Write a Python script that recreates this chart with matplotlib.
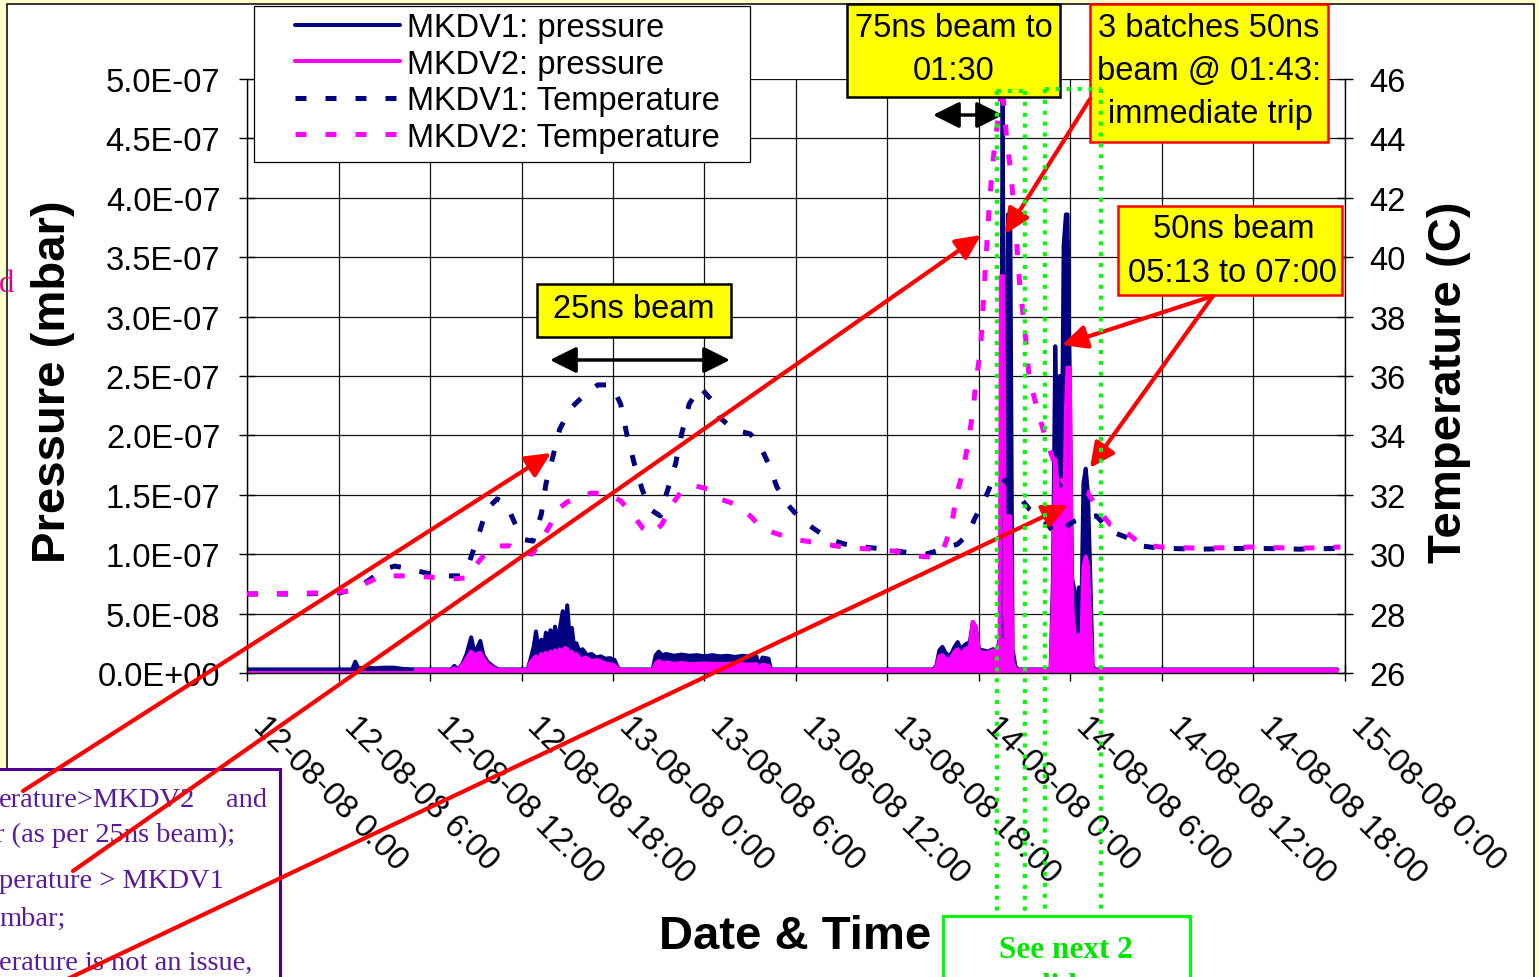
import matplotlib
matplotlib.use('Agg')
import matplotlib.pyplot as plt
from matplotlib.patches import Rectangle, FancyArrowPatch
from matplotlib.lines import Line2D

plt.rcParams['font.family'] = ['Liberation Sans', 'DejaVu Sans']

# ---------------- data ----------------
# time axis: hours after 12-08-08 00:00
x_tick_hours = [0, 6, 12, 18, 24, 30, 36, 42, 48, 54, 60, 66, 72]
x_tick_labels = ['12-08-08 0:00', '12-08-08 6:00', '12-08-08 12:00', '12-08-08 18:00',
                 '13-08-08 0:00', '13-08-08 6:00', '13-08-08 12:00', '13-08-08 18:00',
                 '14-08-08 0:00', '14-08-08 6:00', '14-08-08 12:00', '14-08-08 18:00',
                 '15-08-08 0:00']
# pressure axis in units of 1E-08 mbar
p_ticks = [0, 5, 10, 15, 20, 25, 30, 35, 40, 45, 50]
p_tick_labels = ['0.0E+00', '5.0E-08', '1.0E-07', '1.5E-07', '2.0E-07', '2.5E-07',
                 '3.0E-07', '3.5E-07', '4.0E-07', '4.5E-07', '5.0E-07']
t_ticks = [26, 28, 30, 32, 34, 36, 38, 40, 42, 44, 46]

# MKDV1 pressure (1E-08 mbar)
mkdv1_p_hours = [0, 6.9, 7.1, 7.3, 7.8, 8.4, 9.0, 9.6, 10.2, 11.0,
                 13.4, 13.6, 13.8, 14.1, 14.4, 14.7, 14.9, 15.1, 15.3, 15.5, 15.8, 16.2, 16.5,
                 18.4, 18.6, 18.8, 18.95, 19.1, 19.3, 19.45, 19.6, 19.75, 19.9, 20.05, 20.2, 20.35,
                 20.5, 20.7, 20.85, 21.0, 21.15, 21.3, 21.45, 21.6, 21.8, 22.0, 22.3, 22.6, 22.9,
                 23.2, 23.5, 23.8, 24.1, 24.3, 24.45,
                 26.6, 26.8, 27.0, 27.2, 27.5, 28.0, 28.5, 29.0, 29.5, 30.0, 30.5, 31.0, 31.5,
                 32.0, 32.5, 33.0, 33.4, 33.6, 33.8, 34.2, 34.35,
                 45.0, 45.2, 45.4, 45.6, 45.8, 46.1, 46.4, 46.6, 46.8, 47.1, 47.4, 47.6, 47.8,
                 48.0, 48.3, 48.6, 48.9, 49.2, 49.4, 49.55, 49.65, 49.75, 49.9, 50.05, 50.2,
                 50.4, 50.6,
                 52.7, 52.85, 53.0, 53.15, 53.3, 53.45, 53.55, 53.7, 53.8, 53.95, 54.1, 54.25,
                 54.4, 54.55, 54.7, 54.85, 55.0, 55.15, 55.3, 55.45, 55.6, 71.5]
mkdv1_p_vals = [0.3, 0.3, 0.95, 0.4, 0.45, 0.4, 0.45, 0.45, 0.35, 0.3,
                0.3, 0.6, 0.3, 0.7, 1.6, 3.0, 1.8, 2.1, 2.7, 1.5, 0.9, 0.5, 0.3,
                0.3, 1.2, 2.2, 3.5, 2.0, 2.8, 1.9, 3.4, 2.3, 3.6, 2.4, 3.9, 2.6,
                3.6, 5.2, 3.4, 5.7, 3.0, 3.8, 2.2, 2.5, 1.8, 2.0, 1.5, 1.6, 1.3,
                1.4, 1.2, 1.25, 1.1, 0.5, 0.3,
                0.3, 1.5, 1.8, 1.5, 1.6, 1.45, 1.55, 1.45, 1.5, 1.4, 1.5, 1.4, 1.45,
                1.35, 1.45, 1.35, 1.4, 0.5, 1.3, 1.2, 0.3,
                0.3, 0.6, 1.9, 2.2, 1.7, 1.4, 2.2, 2.6, 2.0, 2.4, 2.6, 4.3, 3.7,
                2.0, 1.9, 1.8, 2.0, 1.9, 3.1, 48.6, 20.0, 3.0, 38.6, 38.6, 2.0,
                0.5, 0.3,
                0.3, 8.0, 27.5, 18.0, 25.0, 20.0, 36.0, 38.6, 38.6, 25.0, 8.0, 7.0,
                5.5, 7.2, 4.0, 16.0, 17.2, 15.0, 8.0, 0.6, 0.3, 0.3]

# MKDV2 pressure (1E-08 mbar)
mkdv2_p_hours = [0, 11.0, 11.05,
                 13.4, 13.6, 13.8, 14.1, 14.4, 14.7, 14.9, 15.1, 15.3, 15.5, 15.8, 16.2, 16.5,
                 18.4, 18.6, 18.8, 18.95, 19.1, 19.3, 19.45, 19.6, 19.75, 19.9, 20.05, 20.2, 20.35,
                 20.5, 20.7, 20.85, 21.0, 21.15, 21.3, 21.45, 21.6, 21.9, 22.2, 22.6, 23.0,
                 23.5, 24.0, 24.3, 24.45,
                 26.6, 26.8, 27.0, 27.3, 27.6, 28.0, 28.5, 29.0, 30.0, 31.0, 32.0, 33.0, 33.4,
                 33.6, 33.8, 34.2, 34.35,
                 45.0, 45.2, 45.4, 45.6, 45.8, 46.1, 46.4, 46.6, 46.8, 47.1, 47.4, 47.6, 47.8,
                 48.0, 48.3, 48.6, 48.9, 49.2, 49.35, 49.45, 49.6, 49.7, 49.8, 49.9, 50.05,
                 50.2, 50.4,
                 52.7, 52.85, 53.0, 53.15, 53.3, 53.45, 53.55, 53.7, 53.8, 53.95, 54.1, 54.25,
                 54.4, 54.55, 54.7, 54.85, 55.0, 55.15, 55.3, 55.45, 71.5]
mkdv2_p_vals = [0.0, 0.0, 0.25,
                0.25, 0.4, 0.25, 0.6, 1.2, 1.8, 1.5, 1.6, 1.7, 1.2, 0.7, 0.4, 0.25,
                0.25, 0.9, 1.2, 1.4, 1.0, 1.6, 1.2, 1.7, 1.3, 1.8, 1.4, 1.9, 1.5,
                2.0, 1.7, 2.1, 2.0, 1.5, 1.8, 1.2, 1.6, 1.1, 1.3, 1.0, 1.1,
                0.8, 0.7, 0.4, 0.25,
                0.25, 0.8, 1.0, 0.8, 0.9, 0.75, 0.85, 0.75, 0.8, 0.75, 0.8, 0.7, 0.75,
                0.25, 0.7, 0.6, 0.25,
                0.25, 0.5, 1.4, 1.5, 1.2, 1.1, 1.8, 2.0, 1.6, 2.0, 2.2, 4.3, 3.9,
                1.8, 1.7, 1.7, 1.9, 1.8, 2.6, 33.4, 33.4, 5.0, 3.0, 13.2, 13.2,
                1.0, 0.25,
                0.25, 6.0, 18.0, 16.0, 12.0, 15.5, 10.0, 22.0, 25.7, 25.7, 6.0, 3.5,
                2.5, 3.2, 2.0, 9.0, 9.8, 9.0, 4.0, 0.25, 0.25]

# MKDV1 temperature (C)
mkdv1_t_hours = [0, 3.5, 6.1, 7.1, 8.1, 9.0, 9.7, 10.7, 11.7, 13.0, 14.0, 14.6, 15.1, 15.7,
                 16.4, 17.0, 17.6, 18.1, 18.75, 19.3, 19.6, 20.1, 20.5, 21.2, 22.2, 23.0, 23.9,
                 24.5, 24.9, 25.4, 25.9, 26.4, 27.1, 27.5, 28.1, 28.5, 29.0, 29.7, 30.4, 31.0,
                 31.9, 33.0, 33.6, 34.2, 34.75, 35.4, 36.3, 37.2, 38.2, 39.2, 40.5, 41.8, 43.1,
                 44.5, 45.6, 46.6, 47.3, 47.7, 48.3, 48.85, 49.4, 49.9, 50.6, 51.3, 52.0, 52.5,
                 53.0, 53.5, 54.2, 55.0, 55.7, 56.6, 57.6, 58.6, 59.9, 62.5, 65.8, 69.0, 72.0]
mkdv1_t_vals = [28.66, 28.66, 28.7, 28.83, 29.16, 29.5, 29.6, 29.5, 29.37, 29.27, 29.27, 29.77,
                30.5, 31.5, 31.86, 31.7, 31.0, 30.5, 30.44, 31.35, 32.36, 33.37, 34.2, 34.9,
                35.4, 35.7, 35.7, 35.06, 34.05, 33.04, 32.2, 31.52, 31.29, 32.03, 33.04, 34.05,
                35.06, 35.63, 35.23, 34.6, 34.2, 34.05, 33.7, 33.04, 32.26, 31.7, 31.18, 30.85,
                30.5, 30.34, 30.24, 30.17, 30.07, 30.0, 30.17, 30.34, 30.68, 31.18, 31.76, 32.43,
                32.63, 32.36, 31.96, 31.52, 31.29, 31.0, 30.68, 30.85, 31.1, 31.25, 31.29, 30.78,
                30.58, 30.28, 30.2, 30.17, 30.2, 30.17, 30.2]

# MKDV2 temperature (C)
mkdv2_t_hours = [0, 5.4, 6.75, 7.7, 8.7, 9.7, 10.7, 12.0, 13.3, 14.3, 14.95, 15.6, 16.4, 17.25,
                 17.9, 18.7, 19.2, 19.9, 20.4, 21.0, 21.8, 22.6, 23.6, 24.5, 25.25, 26.0, 26.6,
                 27.2, 27.9, 28.6, 29.4, 30.2, 31.0, 32.0, 33.0, 33.8, 34.8, 35.9, 37.2, 38.6,
                 39.9, 41.2, 42.5, 43.8, 45.0, 45.6, 46.2, 46.5, 46.95, 47.3, 47.6, 47.8, 48.1,
                 48.3, 48.5, 48.7, 49.0, 49.4, 49.6, 49.8, 50.1, 50.4, 50.7, 51.0, 51.3, 52.0,
                 52.5, 53.0, 53.5, 54.3, 55.1, 55.8, 56.6, 57.4, 58.6, 59.9, 62.5, 65.8, 69.0,
                 71.7]
mkdv2_t_vals = [28.66, 28.7, 28.76, 29.0, 29.23, 29.27, 29.27, 29.23, 29.16, 29.2, 29.6, 30.0,
                30.28, 30.28, 30.07, 30.0, 30.4, 31.0, 31.52, 31.76, 31.93, 32.06, 32.03, 31.8,
                31.35, 30.85, 30.68, 31.0, 31.69, 32.2, 32.3, 32.2, 31.86, 31.69, 31.29, 30.85,
                30.68, 30.5, 30.4, 30.28, 30.2, 30.17, 30.1, 29.94, 29.9, 30.07, 30.95, 31.93,
                32.8, 33.8, 34.8, 35.8, 36.9, 38.6, 40.3, 41.96, 43.64, 45.3, 45.3, 44.08, 42.8,
                40.95, 38.9, 37.6, 35.9, 34.55, 33.7, 33.0, 32.46, 32.2, 32.1, 31.52, 31.0,
                30.85, 30.34, 30.24, 30.2, 30.24, 30.2, 30.24]

series_labels = ['MKDV1: pressure', 'MKDV2: pressure', 'MKDV1: Temperature', 'MKDV2: Temperature']

# ---------------- layout ----------------
W, H, DPI = 1539, 978, 100
NAVY = '#000080'
MAG = '#FF00FF'
FS = 23.5


def fx(x):
    return x / W


def fy(y):
    return 1 - y / H


fig = plt.figure(figsize=(W / DPI, H / DPI), dpi=DPI, facecolor='#FFFFCC')

# chart area
fig.add_artist(Rectangle((fx(7), fy(1100)), fx(1534) - fx(7), fy(5) - fy(1100),
                         transform=fig.transFigure, facecolor='white', edgecolor='black',
                         lw=1.1, zorder=-5))

ax = fig.add_axes([fx(247), fy(674), 1098 / W, 594 / H])
ax.set_facecolor('white')
ax.set_xlim(0, 72)
ax.set_ylim(0, 50)
ax.set_axisbelow(True)
ax.grid(True, color='#111111', lw=0.9)
for s in ['top', 'right']:
    ax.spines[s].set_visible(False)
for s in ['left', 'bottom']:
    ax.spines[s].set_linewidth(1.0)

# pressure series
ax.fill_between(mkdv1_p_hours, 0, mkdv1_p_vals, color=NAVY, lw=0)
l1, = ax.plot(mkdv1_p_hours, mkdv1_p_vals, color=NAVY, lw=2.9, solid_joinstyle='round',
              solid_capstyle='round')
ax.fill_between(mkdv2_p_hours, 0, mkdv2_p_vals, color=MAG, lw=0)
l2, = ax.plot(mkdv2_p_hours, mkdv2_p_vals, color=MAG, lw=2.9, solid_joinstyle='round',
              solid_capstyle='round')

ax.set_xticks(x_tick_hours)
ax.set_xticklabels(x_tick_labels, fontsize=FS)
for lbl in ax.get_xticklabels():
    lbl.set_rotation(-45)
    lbl.set_ha('left')
    lbl.set_va('bottom')
    lbl.set_rotation_mode('anchor')
ax.tick_params(axis='x', direction='inout', length=11.5, width=1, pad=36.5)
ax.set_yticks(p_ticks)
ax.set_yticklabels(p_tick_labels, fontsize=FS)
ax.tick_params(axis='y', direction='inout', length=11.5, width=1, pad=13.5)

ax.set_ylabel('Pressure (mbar)', fontsize=34, fontweight='bold', va='center')
ax.yaxis.set_label_coords(-0.1767, 0.4916)
ax.set_xlabel('Date & Time', fontsize=34, fontweight='bold', va='center')
ax.xaxis.set_label_coords(0.4991, -0.4420)

# temperature series on secondary axis
ax2 = ax.twinx()
ax2.set_ylim(26, 46)
ax2.set_xlim(0, 72)
for s in ['top', 'left', 'bottom']:
    ax2.spines[s].set_visible(False)
ax2.spines['right'].set_linewidth(1.0)
l3, = ax2.plot(mkdv1_t_hours, mkdv1_t_vals, color=NAVY, lw=3.6, dashes=(2.2, 3.8),
               dash_capstyle='butt')
l4, = ax2.plot(mkdv2_t_hours, mkdv2_t_vals, color=MAG, lw=3.6, dashes=(2.2, 3.8),
               dash_capstyle='butt')
ax2.set_yticks(t_ticks)
ax2.set_yticklabels([str(t) for t in t_ticks], fontsize=FS)
ax2.tick_params(axis='y', direction='inout', length=11.5, width=1, pad=12)
ax2.set_ylabel('Temperature (C)', fontsize=34, fontweight='bold', va='center', rotation=90)
ax2.yaxis.set_label_coords(1.0947, 0.4916)

# legend
fig.add_artist(Rectangle((fx(254), fy(163)), fx(750) - fx(254), fy(7) - fy(163),
                         transform=fig.transFigure, facecolor='white', edgecolor='black',
                         lw=0.9, zorder=4))
fig.legend([l1, l2, l3, l4], series_labels, loc='upper left',
           bbox_to_anchor=(fx(295), fy(13)), bbox_transform=fig.transFigure,
           frameon=False, fontsize=FS, handlelength=3.22, handletextpad=0.21,
           labelspacing=0.17, borderpad=0, borderaxespad=0)


# ---------------- annotations ----------------
def box(x0, y0, x1, y1, fc, ec, lw, z=6):
    fig.add_artist(Rectangle((fx(x0), fy(y1)), fx(x1) - fx(x0), fy(y0) - fy(y1),
                             transform=fig.transFigure, facecolor=fc, edgecolor=ec,
                             lw=lw, zorder=z))


def txt(x, y, s, **kw):
    kw.setdefault('fontsize', FS)
    kw.setdefault('ha', 'center')
    kw.setdefault('va', 'baseline')
    kw.setdefault('zorder', 7)
    fig.text(fx(x), fy(y), s, **kw)


def arrow(x0, y0, x1, y1, style, color, lw, z=8):
    fig.add_artist(FancyArrowPatch((fx(x0), fy(y0)), (fx(x1), fy(y1)),
                                   transform=fig.transFigure, arrowstyle=style,
                                   mutation_scale=20, lw=lw, color=color,
                                   shrinkA=0, shrinkB=0, zorder=z))


YEL = '#FFFF00'
box(537, 285, 731, 338, YEL, 'black', 1.8)
txt(634, 318, '25ns beam')
box(847, 5, 1060, 98, YEL, 'black', 1.8)
txt(954, 37, '75ns beam to')
txt(954, 80, '01:30')
box(1090, 5, 1328, 143, YEL, '#FF0000', 1.8)
txt(1209, 37, '3 batches 50ns')
txt(1209, 80, 'beam @ 01:43:')
txt(1210, 123, 'immediate trip')
box(1118, 207, 1342, 296, YEL, '#FF0000', 1.8)
txt(1234, 238, '50ns beam')
txt(1232, 282, '05:13 to 07:00')

# black double arrows
arrow(550, 361, 730, 361, '<|-|>,head_length=0.8,head_width=0.4', 'black', 2.5)
arrow(933, 116, 1003, 116, '<|-|>,head_length=0.8,head_width=0.4', 'black', 2.5)

# purple note box (cut off by the slide)
PURP_T = '#5A189A'
box(-10, 770, 280, 1100, 'white', '#4B0090', 2.2, z=6)
SER = ['Liberation Serif', 'DejaVu Serif']
txt(-1, 807, 'erature>MKDV2', ha='left', fontsize=20.5, family=SER, color=PURP_T)
txt(267, 807, 'and', ha='right', fontsize=20.5, family=SER, color=PURP_T)
txt(-5, 842, 'r (as per 25ns beam);', ha='left', fontsize=20.5, family=SER, color=PURP_T)
txt(-1, 888, 'perature > MKDV1', ha='left', fontsize=20.5, family=SER, color=PURP_T)
txt(-1, 926, 'mbar;', ha='left', fontsize=20.5, family=SER, color=PURP_T)
txt(-1, 970, 'erature is not an issue,', ha='left', fontsize=20.5, family=SER, color=PURP_T)
txt(-1, 292, 'd', ha='left', fontsize=22, family=SER, color='#E6008A')

# green "see next slides" box and dotted frames
GRN = '#00FF00'
box(943, 917, 1190, 1100, 'white', GRN, 2.2, z=6)
txt(1066, 958, 'See next 2', fontsize=22.5, family=SER, fontweight='bold', color='#00E600')
txt(1066, 995, 'slides', fontsize=22.5, family=SER, fontweight='bold', color='#00E600')
for (xa, xb, yt) in [(997, 1025, 92), (1045, 1101, 90)]:
    for xv in (xa, xb):
        fig.add_artist(Line2D([fx(xv), fx(xv)], [fy(yt), fy(917)], transform=fig.transFigure,
                              color=GRN, lw=2.9, ls=(0, (1, 1.7)), zorder=9))
    fig.add_artist(Line2D([fx(xa), fx(xb)], [fy(yt), fy(yt)], transform=fig.transFigure,
                          color=GRN, lw=2.9, ls=(0, (1, 1.7)), zorder=9))

# red arrows
RS = '-|>,head_length=0.75,head_width=0.36'
arrow(23, 792, 551, 454, RS, '#FF0000', 3.0)
arrow(73, 872, 981, 236, RS, '#FF0000', 3.0)
arrow(40, 993, 1068, 506, RS, '#FF0000', 3.0)
arrow(1090, 100, 1005, 235, RS, '#FF0000', 3.0)
arrow(1213, 297, 1062, 346, RS, '#FF0000', 3.0)
arrow(1213, 297, 1090, 469, RS, '#FF0000', 3.0)

fig.savefig('out.png', dpi=DPI, facecolor=fig.get_facecolor())
